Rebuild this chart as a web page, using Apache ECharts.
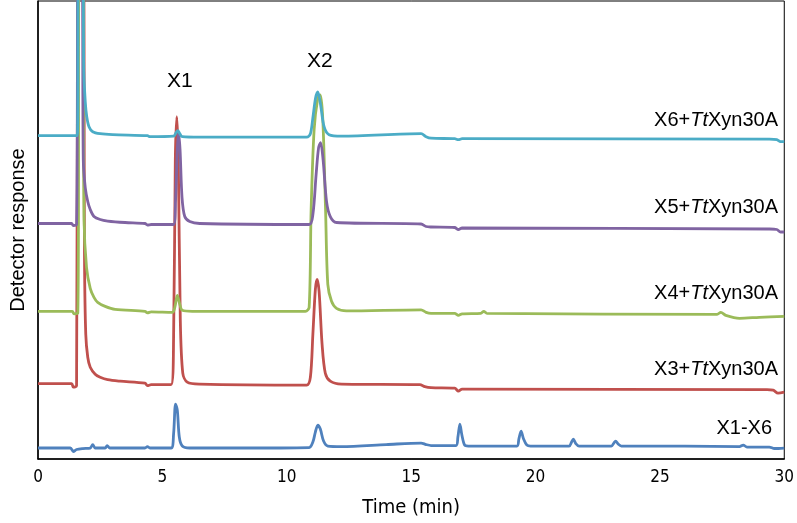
<!DOCTYPE html>
<html>
<head>
<meta charset="utf-8">
<script src="https://cdn.jsdelivr.net/npm/echarts@6/dist/echarts.min.js"></script>
<style>html,body{margin:0;padding:0;background:#fff}#c{width:797px;height:523px}</style>
</head>
<body>
<div id="c"></div>
<script>
// Time axis (min)
const xTicks = [0, 5, 10, 15, 20, 25, 30];
const seriesNames = ['X1-X6', 'X3+TtXyn30A', 'X4+TtXyn30A', 'X5+TtXyn30A', 'X6+TtXyn30A'];
const seriesColors = ['#4f81bd', '#c0504d', '#9bbb59', '#8064a2', '#4bacc6'];

// Detector response (arbitrary units, stacked traces): [time, response]
const traceX1X6 = [
  [0, 11], [1.3, 11], [1.42, 7.5], [1.55, 9.5], [1.8, 10.5], [2.1, 11], [2.2, 14.5], [2.3, 11],
  [2.7, 11], [2.78, 13.5], [2.88, 11], [4.3, 11], [4.4, 12.5], [4.5, 11], [5.35, 11], [5.45, 25],
  [5.53, 55], [5.6, 49], [5.68, 22], [5.8, 13], [6.1, 11], [8, 11], [10.9, 11.5], [11.05, 17],
  [11.15, 27], [11.25, 34], [11.35, 30], [11.48, 18], [11.65, 13], [12.2, 12.5], [14, 14.5],
  [15.4, 16], [15.6, 14.5], [15.8, 13.5], [16.8, 13.5], [16.88, 22], [16.96, 35], [17.04, 24],
  [17.15, 14], [17.3, 13], [19.25, 13], [19.33, 20], [19.42, 28], [19.52, 20], [19.65, 14],
  [19.8, 13], [21.35, 13], [21.45, 17], [21.52, 20], [21.62, 15.5], [21.75, 13], [23.05, 13],
  [23.15, 16], [23.22, 18], [23.32, 15], [23.45, 13], [26, 13], [28.2, 12.5], [28.35, 14],
  [28.5, 12], [29.4, 12], [29.6, 10.5], [30, 11]
];
const traceX3 = [
  [0, 75.5], [1.35, 75.5], [1.42, 72], [1.55, 73.5], [1.6, 500], [1.82, 500], [1.87, 200],
  [1.92, 125], [2.0, 102], [2.1, 92], [2.3, 85], [2.5, 82], [2.8, 79.5], [3.3, 78], [4.3, 76],
  [4.4, 73.5], [4.55, 74.5], [5.35, 74.5], [5.45, 120], [5.52, 300], [5.58, 343], [5.64, 300],
  [5.72, 140], [5.82, 86], [6.0, 77], [6.5, 75], [10.8, 74], [10.95, 82], [11.05, 125],
  [11.15, 170], [11.22, 180], [11.3, 168], [11.42, 115], [11.55, 86], [11.75, 78], [12.2, 75],
  [15.35, 74.5], [15.55, 72.5], [15.8, 71.5], [16.75, 71], [16.9, 68], [17.05, 70], [29.3, 69.5],
  [29.55, 69], [29.75, 66], [30, 67]
];
const traceX4 = [
  [0, 148], [1.38, 148], [1.45, 145.5], [1.6, 146], [1.66, 500], [1.8, 500], [1.85, 240],
  [1.95, 192], [2.1, 171], [2.25, 162], [2.4, 157], [2.7, 153], [3.1, 150], [4.3, 148],
  [4.4, 146.5], [4.55, 147.5], [5.4, 147], [5.5, 152], [5.6, 164], [5.7, 155], [5.8, 149],
  [6.2, 148], [10.75, 148], [10.9, 152], [10.98, 250], [11.1, 330], [11.25, 362], [11.35, 365],
  [11.45, 340], [11.56, 250], [11.65, 175], [11.8, 158], [12.0, 151], [12.4, 148.5],
  [15.4, 149.5], [15.6, 147], [15.8, 146], [16.75, 146], [16.9, 144], [17.05, 145.5], [17.8, 146],
  [17.92, 148], [18.05, 146], [27.3, 145], [27.45, 147], [27.65, 144], [28.2, 141], [29, 142],
  [30, 143]
];
const traceX5 = [
  [0, 236], [1.35, 236], [1.42, 234], [1.55, 235], [1.62, 500], [1.76, 500], [1.82, 300],
  [1.9, 272], [2.0, 258], [2.1, 250], [2.25, 243], [2.5, 240], [2.8, 238.5], [3.5, 237],
  [4.3, 236], [4.4, 234.5], [4.55, 235], [5.45, 235], [5.53, 260], [5.6, 310], [5.65, 327],
  [5.71, 310], [5.79, 262], [5.9, 243], [6.1, 238], [6.5, 236], [10.9, 235], [11.05, 245],
  [11.18, 285], [11.28, 312], [11.36, 317], [11.46, 300], [11.6, 258], [11.75, 243], [12.0, 237],
  [15.4, 235.5], [15.6, 233], [15.8, 232.5], [16.75, 232], [16.9, 230], [17.05, 231.5],
  [29.4, 230.5], [29.7, 230], [29.85, 227.5], [30, 227.5]
];
const traceX6 = [
  [0, 324], [1.45, 324], [1.58, 324], [1.63, 500], [1.79, 500], [1.84, 390], [1.9, 358],
  [1.96, 343], [2.05, 333], [2.2, 328], [2.5, 326], [3.0, 325], [4.4, 324], [4.5, 323],
  [5.45, 323.5], [5.55, 327], [5.62, 329], [5.7, 326], [5.8, 323], [6.5, 322.5], [10.8, 322.5],
  [10.95, 326], [11.05, 342], [11.16, 362], [11.25, 368], [11.36, 355], [11.5, 333], [11.7, 325],
  [12.2, 323.5], [15.4, 326], [15.6, 323], [15.8, 321.5], [16.75, 321], [16.9, 320], [17.05, 321],
  [29.4, 320.5], [29.7, 320], [29.85, 318], [30, 318]
];
const traces = [traceX1X6, traceX3, traceX4, traceX5, traceX6];

const chart = echarts.init(document.getElementById('c'), null, {renderer: 'canvas'});
const narrow = "'Liberation Sans Narrow', 'DejaVu Sans Condensed', sans-serif";
const sans = "'Liberation Sans', Arial, sans-serif";

function traceLabel(text, right, y) {
  const m = text.match(/^(.*\+)Tt(.*)$/);
  const t = m ? m[1] + '{i|Tt}' + m[2] : text;
  return {
    type: 'text', right: right, top: y - 11,
    style: {
      text: t, fill: '#000', font: '20px ' + sans,
      rich: {i: {fontStyle: 'italic', fontSize: 20, fontFamily: sans, fill: '#000'}}
    }
  };
}

chart.setOption({
  animation: false,
  grid: {left: 37, right: 10, top: 1, bottom: 63, show: true, borderColor: '#000', borderWidth: 1, backgroundColor: 'transparent'},
  xAxis: {
    type: 'value', min: xTicks[0], max: xTicks[xTicks.length - 1], interval: 5,
    axisLine: {show: true, lineStyle: {color: '#000', width: 1.5}},
    axisTick: {show: false},
    splitLine: {show: false},
    axisLabel: {color: '#000', fontSize: 17, fontFamily: narrow, margin: 10},
    name: 'Time (min)', nameLocation: 'middle', nameGap: 39,
    nameTextStyle: {color: '#000', fontSize: 20, fontFamily: narrow}
  },
  yAxis: {
    type: 'value', min: 0, max: 459,
    axisLine: {show: true, lineStyle: {color: '#000', width: 1.5}},
    axisTick: {show: false}, axisLabel: {show: false}, splitLine: {show: false},
    name: 'Detector response', nameLocation: 'middle', nameGap: 10, nameRotate: 90,
    nameTextStyle: {color: '#000', fontSize: 20, fontFamily: sans}
  },
  series: traces.map((d, i) => ({
    name: seriesNames[i], type: 'line', data: d, showSymbol: false, symbol: 'none',
    smooth: 0.3, clip: true, z: 2 + i,
    lineStyle: {color: seriesColors[i], width: 2.8}
  })),
  graphic: [
    {type: 'text', left: 167, top: 71, style: {text: 'X1', fill: '#000', font: '21px ' + sans}},
    {type: 'text', left: 307, top: 51, style: {text: 'X2', fill: '#000', font: '21px ' + sans}},
    traceLabel('X6+TtXyn30A', 19, 121),
    traceLabel('X5+TtXyn30A', 19, 208),
    traceLabel('X4+TtXyn30A', 19, 294),
    traceLabel('X3+TtXyn30A', 19, 370),
    traceLabel('X1-X6', 25, 429)
  ]
});
</script>
</body>
</html>
